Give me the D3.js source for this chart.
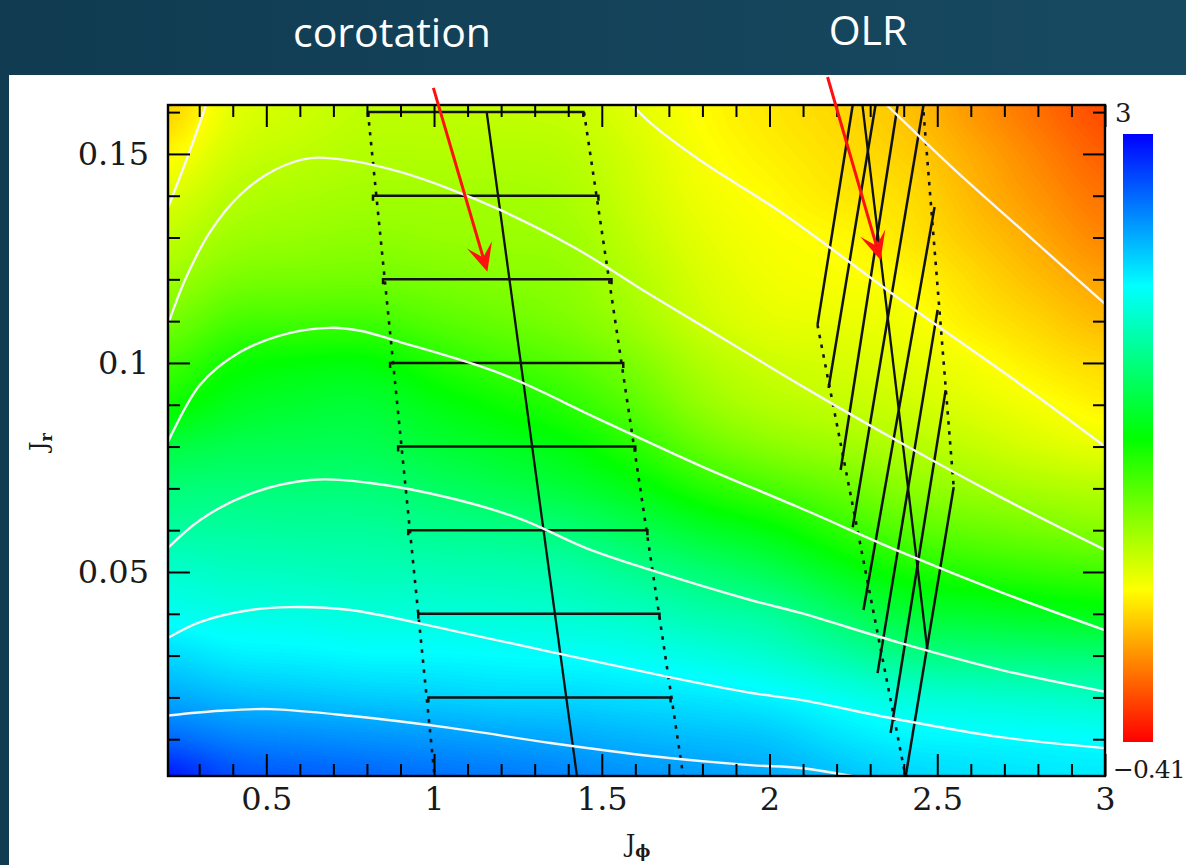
<!DOCTYPE html>
<html>
<head>
<meta charset="utf-8">
<script src="https://cdn.jsdelivr.net/npm/d3@7"></script>
<style>
  html, body { margin: 0; padding: 0; background: #144560; }
  svg { display: block; }
</style>
</head>
<body>
<svg id="fig" width="1186" height="865"></svg>
<script>
// ---------------------------------------------------------------------------
// Data: colour field sampled on a (J_phi, J_r) grid, rows from J_r = 0 upward
// ---------------------------------------------------------------------------
const jphiGrid = [0.2, 0.4, 0.6, 0.8, 1.0, 1.2, 1.4, 1.6, 1.8, 2.0, 2.2, 2.4, 2.6, 2.8, 3.0];
const jrGrid = [0, 0.01, 0.02, 0.03, 0.04, 0.05, 0.06, 0.07, 0.08, 0.09, 0.10, 0.11, 0.12, 0.13, 0.14, 0.15, 0.16];
const fieldRows = [
  [2.97, 2.76, 2.71, 2.68, 2.64, 2.61, 2.57, 2.52, 2.49, 2.44, 2.37, 2.30, 2.27, 2.24, 2.22],
  [2.66, 2.57, 2.54, 2.52, 2.49, 2.47, 2.44, 2.40, 2.37, 2.34, 2.25, 2.18, 2.17, 2.16, 2.15],
  [2.44, 2.37, 2.34, 2.32, 2.30, 2.28, 2.28, 2.25, 2.22, 2.18, 2.11, 2.03, 2.00, 1.97, 1.94],
  [2.28, 2.20, 2.18, 2.16, 2.16, 2.15, 2.13, 2.10, 2.05, 1.99, 1.87, 1.74, 1.71, 1.69, 1.67],
  [2.11, 2.06, 2.05, 2.03, 2.03, 2.01, 1.99, 1.94, 1.87, 1.81, 1.64, 1.47, 1.43, 1.40, 1.36],
  [1.98, 1.94, 1.93, 1.91, 1.91, 1.89, 1.86, 1.77, 1.67, 1.57, 1.40, 1.23, 1.18, 1.13, 1.09],
  [1.84, 1.82, 1.81, 1.81, 1.77, 1.74, 1.69, 1.57, 1.43, 1.33, 1.16, 1.01, 0.95, 0.90, 0.85],
  [1.69, 1.70, 1.69, 1.69, 1.62, 1.55, 1.48, 1.35, 1.18, 1.06, 0.95, 0.83, 0.78, 0.73, 0.68],
  [1.50, 1.55, 1.57, 1.57, 1.48, 1.41, 1.33, 1.16, 0.95, 0.83, 0.77, 0.70, 0.64, 0.57, 0.51],
  [1.23, 1.40, 1.45, 1.47, 1.35, 1.26, 1.16, 0.99, 0.80, 0.68, 0.65, 0.61, 0.54, 0.47, 0.39],
  [1.06, 1.26, 1.31, 1.33, 1.19, 1.09, 1.01, 0.87, 0.70, 0.60, 0.58, 0.54, 0.47, 0.38, 0.31],
  [0.89, 1.06, 1.07, 1.09, 1.01, 0.94, 0.87, 0.75, 0.61, 0.53, 0.51, 0.48, 0.38, 0.30, 0.20],
  [0.75, 0.89, 0.90, 0.92, 0.89, 0.85, 0.82, 0.70, 0.56, 0.49, 0.46, 0.43, 0.32, 0.22, 0.12],
  [0.65, 0.77, 0.80, 0.82, 0.80, 0.78, 0.77, 0.65, 0.53, 0.46, 0.43, 0.37, 0.26, 0.15, 0.03],
  [0.54, 0.68, 0.72, 0.75, 0.75, 0.75, 0.73, 0.61, 0.49, 0.43, 0.37, 0.34, 0.21, 0.09, -0.03],
  [0.41, 0.61, 0.66, 0.70, 0.70, 0.70, 0.68, 0.58, 0.46, 0.39, 0.34, 0.29, 0.16, 0.03, -0.10],
  [0.27, 0.54, 0.61, 0.66, 0.66, 0.65, 0.63, 0.54, 0.43, 0.36, 0.31, 0.24, 0.10, -0.03, -0.17]
];
const colourMin = -0.41;
const colourMax = 3;
const colourLabels = ["3", "\u22120.41"];

// White contour lines (J_phi, J_r)
const contour1 = [[0.2,0.0156],[0.362,0.0168],[0.511,0.0172],[0.750,0.0156],[1.048,0.0127],[1.347,0.0091],[1.645,0.0060],[1.943,0.0038],[2.092,0.0031],[2.30,0.0004]];
const contour2 = [[0.2,0.0339],[0.302,0.0380],[0.452,0.0409],[0.571,0.0416],[0.750,0.0409],[1.048,0.0361],[1.347,0.0309],[1.645,0.0258],[1.943,0.0211],[2.092,0.0194],[2.391,0.0146],[2.689,0.0105],[3.01,0.0078]];
const contour3 = [[0.2,0.0552],[0.302,0.0624],[0.452,0.0687],[0.631,0.0720],[0.810,0.0713],[1.048,0.0677],[1.257,0.0627],[1.457,0.0556],[1.645,0.0505],[1.943,0.0433],[2.092,0.0402],[2.391,0.0330],[2.689,0.0266],[3.01,0.0212]];
const contour4 = [[0.2,0.0799],[0.302,0.0947],[0.422,0.1026],[0.571,0.1072],[0.690,0.1084],[0.780,0.1077],[0.899,0.1050],[1.197,0.0975],[1.496,0.0864],[1.794,0.0754],[2.092,0.0653],[2.391,0.0548],[2.689,0.0452],[3.01,0.0358]];
const contour5 = [[0.2,0.1076],[0.258,0.1199],[0.332,0.1313],[0.422,0.1402],[0.526,0.1462],[0.631,0.1490],[0.750,0.1484],[0.899,0.1457],[1.048,0.1416],[1.197,0.1366],[1.421,0.1275],[1.645,0.1163],[1.869,0.1055],[2.092,0.0947],[2.391,0.0809],[2.689,0.0679],[3.01,0.0549]];
const contour6a = [[0.2,0.1357],[0.258,0.1477],[0.302,0.1574],[0.33,0.1640]];
const contour6b = [[1.56,0.1645],[1.645,0.1574],[1.794,0.1484],[2.033,0.1361],[2.391,0.1151],[2.779,0.0931],[3.01,0.0794]];
const contour7 = [[2.32,0.1640],[2.540,0.1471],[2.779,0.1299],[3.01,0.1134]];

// Corotation resonance: centre line, dotted edges, widths at fixed J_r
const corotationLine = [[1.157,0.160],[1.428,0.0]];
const corotationEdgeLow = [[0.803,0.16],[1.003,0.0]];
const corotationEdgeHigh = [[1.447,0.16],[1.745,0.0]];
const barJr = [0.16, 0.14, 0.12, 0.10, 0.08, 0.06, 0.04, 0.02];
const barLeft = [0.804, 0.818, 0.848, 0.869, 0.893, 0.923, 0.953, 0.983];
const barRight = [1.445, 1.490, 1.529, 1.564, 1.600, 1.636, 1.672, 1.705];

// Outer Lindblad resonance: trapping segments, centre line, dotted edges
const olrSegments = [
  [[2.248,0.1617],[2.143,0.1091]],
  [[2.316,0.1617],[2.176,0.0940]],
  [[2.382,0.1617],[2.212,0.0744]],
  [[2.459,0.1617],[2.248,0.0607]],
  [[2.492,0.1373],[2.280,0.0409]],
  [[2.501,0.1127],[2.322,0.0258]],
  [[2.525,0.0935],[2.361,0.0115]],
  [[2.549,0.0703],[2.406,0.0012]]
];
const olrLine = [[2.277,0.1617],[2.471,0.031]];
const olrEdgeLow = [[2.143,0.1091],[2.408,0.0]];
const olrEdgeHigh = [[2.459,0.1600],[2.549,0.0703]];

// Annotation arrows (tail, head) in data coordinates
const corotationArrow = [[0.998,0.1658],[1.159,0.1218]];
const olrArrow = [[2.173,0.1684],[2.331,0.1246]];

// Axis ticks
const xMajor = [0.5, 1, 1.5, 2, 2.5, 3];
const xMajorLabels = ["0.5", "1", "1.5", "2", "2.5", "3"];
const xMinor = [0.3,0.4,0.6,0.7,0.8,0.9,1.1,1.2,1.3,1.4,1.6,1.7,1.8,1.9,2.1,2.2,2.3,2.4,2.6,2.7,2.8,2.9];
const yMajor = [0.05, 0.1, 0.15];
const yMajorLabels = ["0.05", "0.1", "0.15"];
const yMinor = [0.01,0.02,0.03,0.04,0.06,0.07,0.08,0.09,0.11,0.12,0.13,0.14,0.16];

// ---------------------------------------------------------------------------
// Layout
// ---------------------------------------------------------------------------
const W = 1186, H = 865;
const plot = { left: 168, right: 1105, top: 105, bottom: 776 };
const pw = plot.right - plot.left, ph = plot.bottom - plot.top;
const x = d3.scaleLinear().domain([0.207, 3.0]).range([plot.left, plot.right]);
const y = d3.scaleLinear().domain([0.0012, 0.1617]).range([plot.bottom, plot.top]);
const colour = d3.scaleLinear()
  .domain([3, 2.1475, 1.295, 0.4425, -0.41])
  .range(["#0000ff", "#00ffff", "#00ff00", "#ffff00", "#ff0000"])
  .clamp(true);

const svg = d3.select("#fig");
const defs = svg.append("defs");

const bg = defs.append("linearGradient").attr("id", "bg")
  .attr("x1", 0).attr("x2", 1).attr("y1", 0).attr("y2", 0);
bg.append("stop").attr("offset", 0).attr("stop-color", "#103b51");
bg.append("stop").attr("offset", 1).attr("stop-color", "#174a61");
svg.append("rect").attr("width", W).attr("height", H).attr("fill", "url(#bg)");
svg.append("rect").attr("x", 9).attr("y", 75).attr("width", W - 9).attr("height", H - 75).attr("fill", "#ffffff");

defs.append("clipPath").attr("id", "plotClip").append("rect")
  .attr("x", plot.left).attr("y", plot.top).attr("width", pw).attr("height", ph);

// ---------------------------------------------------------------------------
// Heat map: grid values -> grey levels -> smooth upscale -> colour lookup
// ---------------------------------------------------------------------------
(function drawField() {
  const nx = jphiGrid.length, ny = jrGrid.length;
  const small = document.createElement("canvas");
  small.width = nx + 2; small.height = ny + 2;
  const sctx = small.getContext("2d");
  const img = sctx.createImageData(nx + 2, ny + 2);
  for (let r = 0; r < ny + 2; r++) {
    for (let c = 0; c < nx + 2; c++) {
      const gi = Math.min(ny - 1, Math.max(0, r - 1));
      const gj = Math.min(nx - 1, Math.max(0, c - 1));
      const v = fieldRows[ny - 1 - gi][gj];
      const lvl = Math.round((v - colourMin) / (colourMax - colourMin) * 255);
      const k = (r * (nx + 2) + c) * 4;
      img.data[k] = lvl; img.data[k + 1] = lvl; img.data[k + 2] = lvl; img.data[k + 3] = 255;
    }
  }
  sctx.putImageData(img, 0, 0);

  const big = document.createElement("canvas");
  big.width = pw; big.height = ph;
  const bctx = big.getContext("2d");
  bctx.imageSmoothingEnabled = true;
  bctx.imageSmoothingQuality = "high";
  const cw = x(jphiGrid[1]) - x(jphiGrid[0]);
  const chh = y(jrGrid[0]) - y(jrGrid[1]);
  const dx0 = x(jphiGrid[0]) - 1.5 * cw - plot.left;
  const dy0 = y(jrGrid[ny - 1]) - 1.5 * chh - plot.top;
  bctx.drawImage(small, dx0, dy0, (nx + 2) * cw, (ny + 2) * chh);

  const im = bctx.getImageData(0, 0, pw, ph);
  const lut = d3.range(256).map(i => d3.rgb(colour(colourMin + (colourMax - colourMin) * i / 255)));
  for (let i = 0; i < im.data.length; i += 4) {
    const c = lut[im.data[i]];
    im.data[i] = c.r; im.data[i + 1] = c.g; im.data[i + 2] = c.b; im.data[i + 3] = 255;
  }
  bctx.putImageData(im, 0, 0);

  svg.append("image")
    .attr("x", plot.left).attr("y", plot.top)
    .attr("width", pw).attr("height", ph)
    .attr("preserveAspectRatio", "none")
    .attr("href", big.toDataURL());
})();

// ---------------------------------------------------------------------------
// Resonance structures (black)
// ---------------------------------------------------------------------------
const straight = d3.line().x(d => x(d[0])).y(d => y(d[1]));
const marks = svg.append("g").attr("clip-path", "url(#plotClip)");

function dotted(pts) {
  marks.append("path").attr("d", straight(pts))
    .attr("fill", "none").attr("stroke", "#151515")
    .attr("stroke-width", 2.6).attr("stroke-dasharray", "3.5 6.5");
}
function solid(pts, w) {
  marks.append("path").attr("d", straight(pts))
    .attr("fill", "none").attr("stroke", "#111")
    .attr("stroke-width", w).attr("stroke-linecap", "butt");
}

dotted(corotationEdgeLow);
dotted(corotationEdgeHigh);
dotted(olrEdgeLow);
dotted(olrEdgeHigh);
solid(corotationLine, 2.3);
solid(olrLine, 2.3);
olrSegments.forEach(s => solid(s, 2.5));

const bars = marks.append("g");
barJr.forEach((jr, i) => {
  const yy = y(jr), xl = x(barLeft[i]), xr = x(barRight[i]);
  bars.append("path")
    .attr("d", `M${xl},${yy + 5}V${yy}H${xr}V${yy + 5}`)
    .attr("fill", "none").attr("stroke", "#111").attr("stroke-width", 2.5);
});

// ---------------------------------------------------------------------------
// White contours
// ---------------------------------------------------------------------------
const smooth = d3.line().x(d => x(d[0])).y(d => y(d[1])).curve(d3.curveCatmullRom.alpha(0.5));
const contourGroup = svg.append("g").attr("clip-path", "url(#plotClip)");
[contour1, contour2, contour3, contour4, contour5, contour6a, contour6b, contour7].forEach(c => {
  contourGroup.append("path").attr("d", smooth(c))
    .attr("fill", "none").attr("stroke", "#f6f6f6")
    .attr("stroke-width", 2.4).attr("stroke-linecap", "round");
});

// ---------------------------------------------------------------------------
// Axes: inward ticks on all four sides
// ---------------------------------------------------------------------------
const labelFont = "'DejaVu Serif', serif";
function styleAxis(g) {
  g.select(".domain").remove();
  g.selectAll(".tick line").attr("stroke", "#000").attr("stroke-width", 2);
  g.selectAll(".tick text").attr("fill", "#1a1a1a").style("font-family", labelFont).style("font-size", "32px");
}
const noLabel = () => "";
const xLab = d => xMajorLabels[xMajor.indexOf(d)];
const yLab = d => yMajorLabels[yMajor.indexOf(d)];

svg.append("g").attr("transform", `translate(0,${plot.bottom})`)
  .call(d3.axisBottom(x).tickValues(xMajor).tickSizeInner(-22).tickSizeOuter(0).tickPadding(11).tickFormat(xLab)).call(styleAxis);
svg.append("g").attr("transform", `translate(0,${plot.bottom})`)
  .call(d3.axisBottom(x).tickValues(xMinor).tickSizeInner(-12).tickSizeOuter(0).tickFormat(noLabel)).call(styleAxis);
svg.append("g").attr("transform", `translate(0,${plot.top})`)
  .call(d3.axisTop(x).tickValues(xMajor).tickSizeInner(-22).tickSizeOuter(0).tickFormat(noLabel)).call(styleAxis);
svg.append("g").attr("transform", `translate(0,${plot.top})`)
  .call(d3.axisTop(x).tickValues(xMinor).tickSizeInner(-12).tickSizeOuter(0).tickFormat(noLabel)).call(styleAxis);

svg.append("g").attr("transform", `translate(${plot.left},0)`)
  .call(d3.axisLeft(y).tickValues(yMajor).tickSizeInner(-22).tickSizeOuter(0).tickPadding(19).tickFormat(yLab)).call(styleAxis);
svg.append("g").attr("transform", `translate(${plot.left},0)`)
  .call(d3.axisLeft(y).tickValues(yMinor).tickSizeInner(-12).tickSizeOuter(0).tickFormat(noLabel)).call(styleAxis);
svg.append("g").attr("transform", `translate(${plot.right},0)`)
  .call(d3.axisRight(y).tickValues(yMajor).tickSizeInner(-22).tickSizeOuter(0).tickFormat(noLabel)).call(styleAxis);
svg.append("g").attr("transform", `translate(${plot.right},0)`)
  .call(d3.axisRight(y).tickValues(yMinor).tickSizeInner(-12).tickSizeOuter(0).tickFormat(noLabel)).call(styleAxis);

svg.append("rect")
  .attr("x", plot.left).attr("y", plot.top).attr("width", pw).attr("height", ph)
  .attr("fill", "none").attr("stroke", "#000").attr("stroke-width", 2.4);

// Axis titles
const xt = svg.append("text").attr("x", 638).attr("y", 852).attr("text-anchor", "middle")
  .attr("fill", "#1a1a1a").style("font-family", labelFont);
xt.append("tspan").style("font-size", "24px").text("J");
xt.append("tspan").style("font-size", "16px").style("font-weight", "bold").attr("dy", 5).text("\u03D5");

const yt = svg.append("text").attr("transform", "translate(47,442) rotate(-90)").attr("text-anchor", "middle")
  .attr("fill", "#1a1a1a").style("font-family", labelFont);
yt.append("tspan").style("font-size", "24px").text("J");
yt.append("tspan").style("font-size", "16px").style("font-weight", "bold").attr("dy", 5).text("r");

// ---------------------------------------------------------------------------
// Colour bar
// ---------------------------------------------------------------------------
const cb = { x: 1123, y: 134, w: 30, h: 608 };
const cbScale = d3.scaleLinear().domain([colourMax, colourMin]).range([cb.y, cb.y + cb.h]);
const grad = defs.append("linearGradient").attr("id", "cbGrad")
  .attr("x1", 0).attr("x2", 0).attr("y1", 0).attr("y2", 1);
d3.range(0, 1.0001, 0.05).forEach(o => {
  const v = colourMax - (colourMax - colourMin) * o;
  grad.append("stop").attr("offset", o).attr("stop-color", colour(v));
});
svg.append("rect").attr("x", cb.x).attr("y", cbScale(colourMax)).attr("width", cb.w)
  .attr("height", cbScale(colourMin) - cbScale(colourMax)).attr("fill", "url(#cbGrad)");
svg.append("text").attr("x", 1115).attr("y", 122).attr("fill", "#1a1a1a")
  .style("font-family", labelFont).style("font-size", "26px").text(colourLabels[0]);
svg.append("text").attr("x", 1113).attr("y", 778).attr("fill", "#1a1a1a")
  .style("font-family", labelFont).style("font-size", "25px").style("letter-spacing", "-1px")
  .text(colourLabels[1]);

// ---------------------------------------------------------------------------
// Header labels and red arrows
// ---------------------------------------------------------------------------
svg.append("text").attr("x", 392).attr("y", 47).attr("text-anchor", "middle")
  .attr("fill", "#ffffff").style("font-family", "'Open Sans', sans-serif").style("font-size", "41px")
  .text("corotation");
svg.append("text").attr("x", 868).attr("y", 45).attr("text-anchor", "middle")
  .attr("fill", "#ffffff").style("font-family", "'Open Sans', sans-serif").style("font-size", "41px")
  .text("OLR");

function arrow(pts) {
  const x0 = x(pts[0][0]), y0 = y(pts[0][1]);
  const x1 = x(pts[1][0]), y1 = y(pts[1][1]);
  const len = Math.hypot(x1 - x0, y1 - y0);
  const ux = (x1 - x0) / len, uy = (y1 - y0) / len;
  const nx = -uy, ny = ux;
  const L = 28, Wd = 13, N = 15;
  svg.append("line")
    .attr("x1", x0).attr("y1", y0).attr("x2", x1 - N * ux).attr("y2", y1 - N * uy)
    .attr("stroke", "#ff1010").attr("stroke-width", 3);
  const b1 = [x1 - L * ux + Wd * nx, y1 - L * uy + Wd * ny];
  const b2 = [x1 - L * ux - Wd * nx, y1 - L * uy - Wd * ny];
  const nt = [x1 - N * ux, y1 - N * uy];
  svg.append("path")
    .attr("d", `M${x1},${y1}L${b1[0]},${b1[1]}L${nt[0]},${nt[1]}L${b2[0]},${b2[1]}Z`)
    .attr("fill", "#ff1010");
}
arrow(corotationArrow);
arrow(olrArrow);
</script>
</body>
</html>
